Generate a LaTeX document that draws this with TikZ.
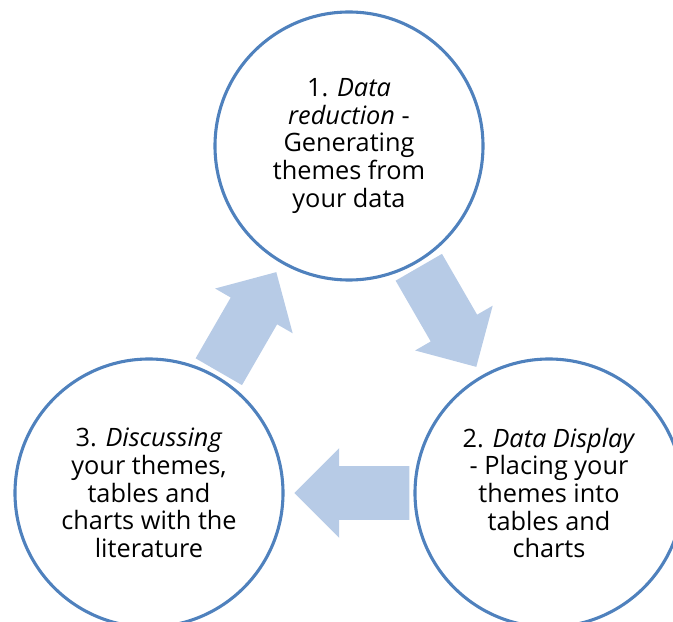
\documentclass[tikz,border=0pt]{standalone}
\usepackage{fontspec}
\setmainfont{Open Sans}
\usetikzlibrary{shapes.arrows,calc}
\definecolor{ringblue}{RGB}{79,129,189}
\definecolor{arrowblue}{RGB}{183,203,230}

\begin{document}
\begin{tikzpicture}[
  stage/.style={draw=ringblue, line width=2.2pt, circle, minimum size=6.7cm, inner sep=0pt,
    align=center, font=\fontsize{18}{19.7}\selectfont},
  cyclearrow/.style={single arrow, fill=arrowblue, draw=none, minimum height=2.875cm,
    inner xsep=0pt, inner ysep=0.6625cm, single arrow head extend=0.45cm, anchor=tip}
]
\useasboundingbox (0,0) rectangle (16.825,15.525);

% Stages
\node[stage] (reduce) at (8.725,11.875) {1. \textit{Data}\\ \textit{reduction} -\\ Generating\\ themes from\\ your data};
\node[stage] (display) at (13.725,3.2) {2. \textit{Data Display}\\ - Placing your\\ themes into\\ tables and\\ charts};
\node[stage] (discuss) at (3.725,3.2) {3. \textit{Discussing}\\ your themes,\\ tables and\\ charts with the\\ literature};

% Arrows
\node[cyclearrow, rotate=-60] (a12) at ($(reduce.center)!0.6375!(display.center)$) {};
\node[cyclearrow, rotate=180] (a23) at ($(display.center)!0.6375!(discuss.center)$) {};
\node[cyclearrow, rotate=60] (a31) at ($(discuss.center)!0.6375!(reduce.center)$) {};
\end{tikzpicture}
\end{document}
